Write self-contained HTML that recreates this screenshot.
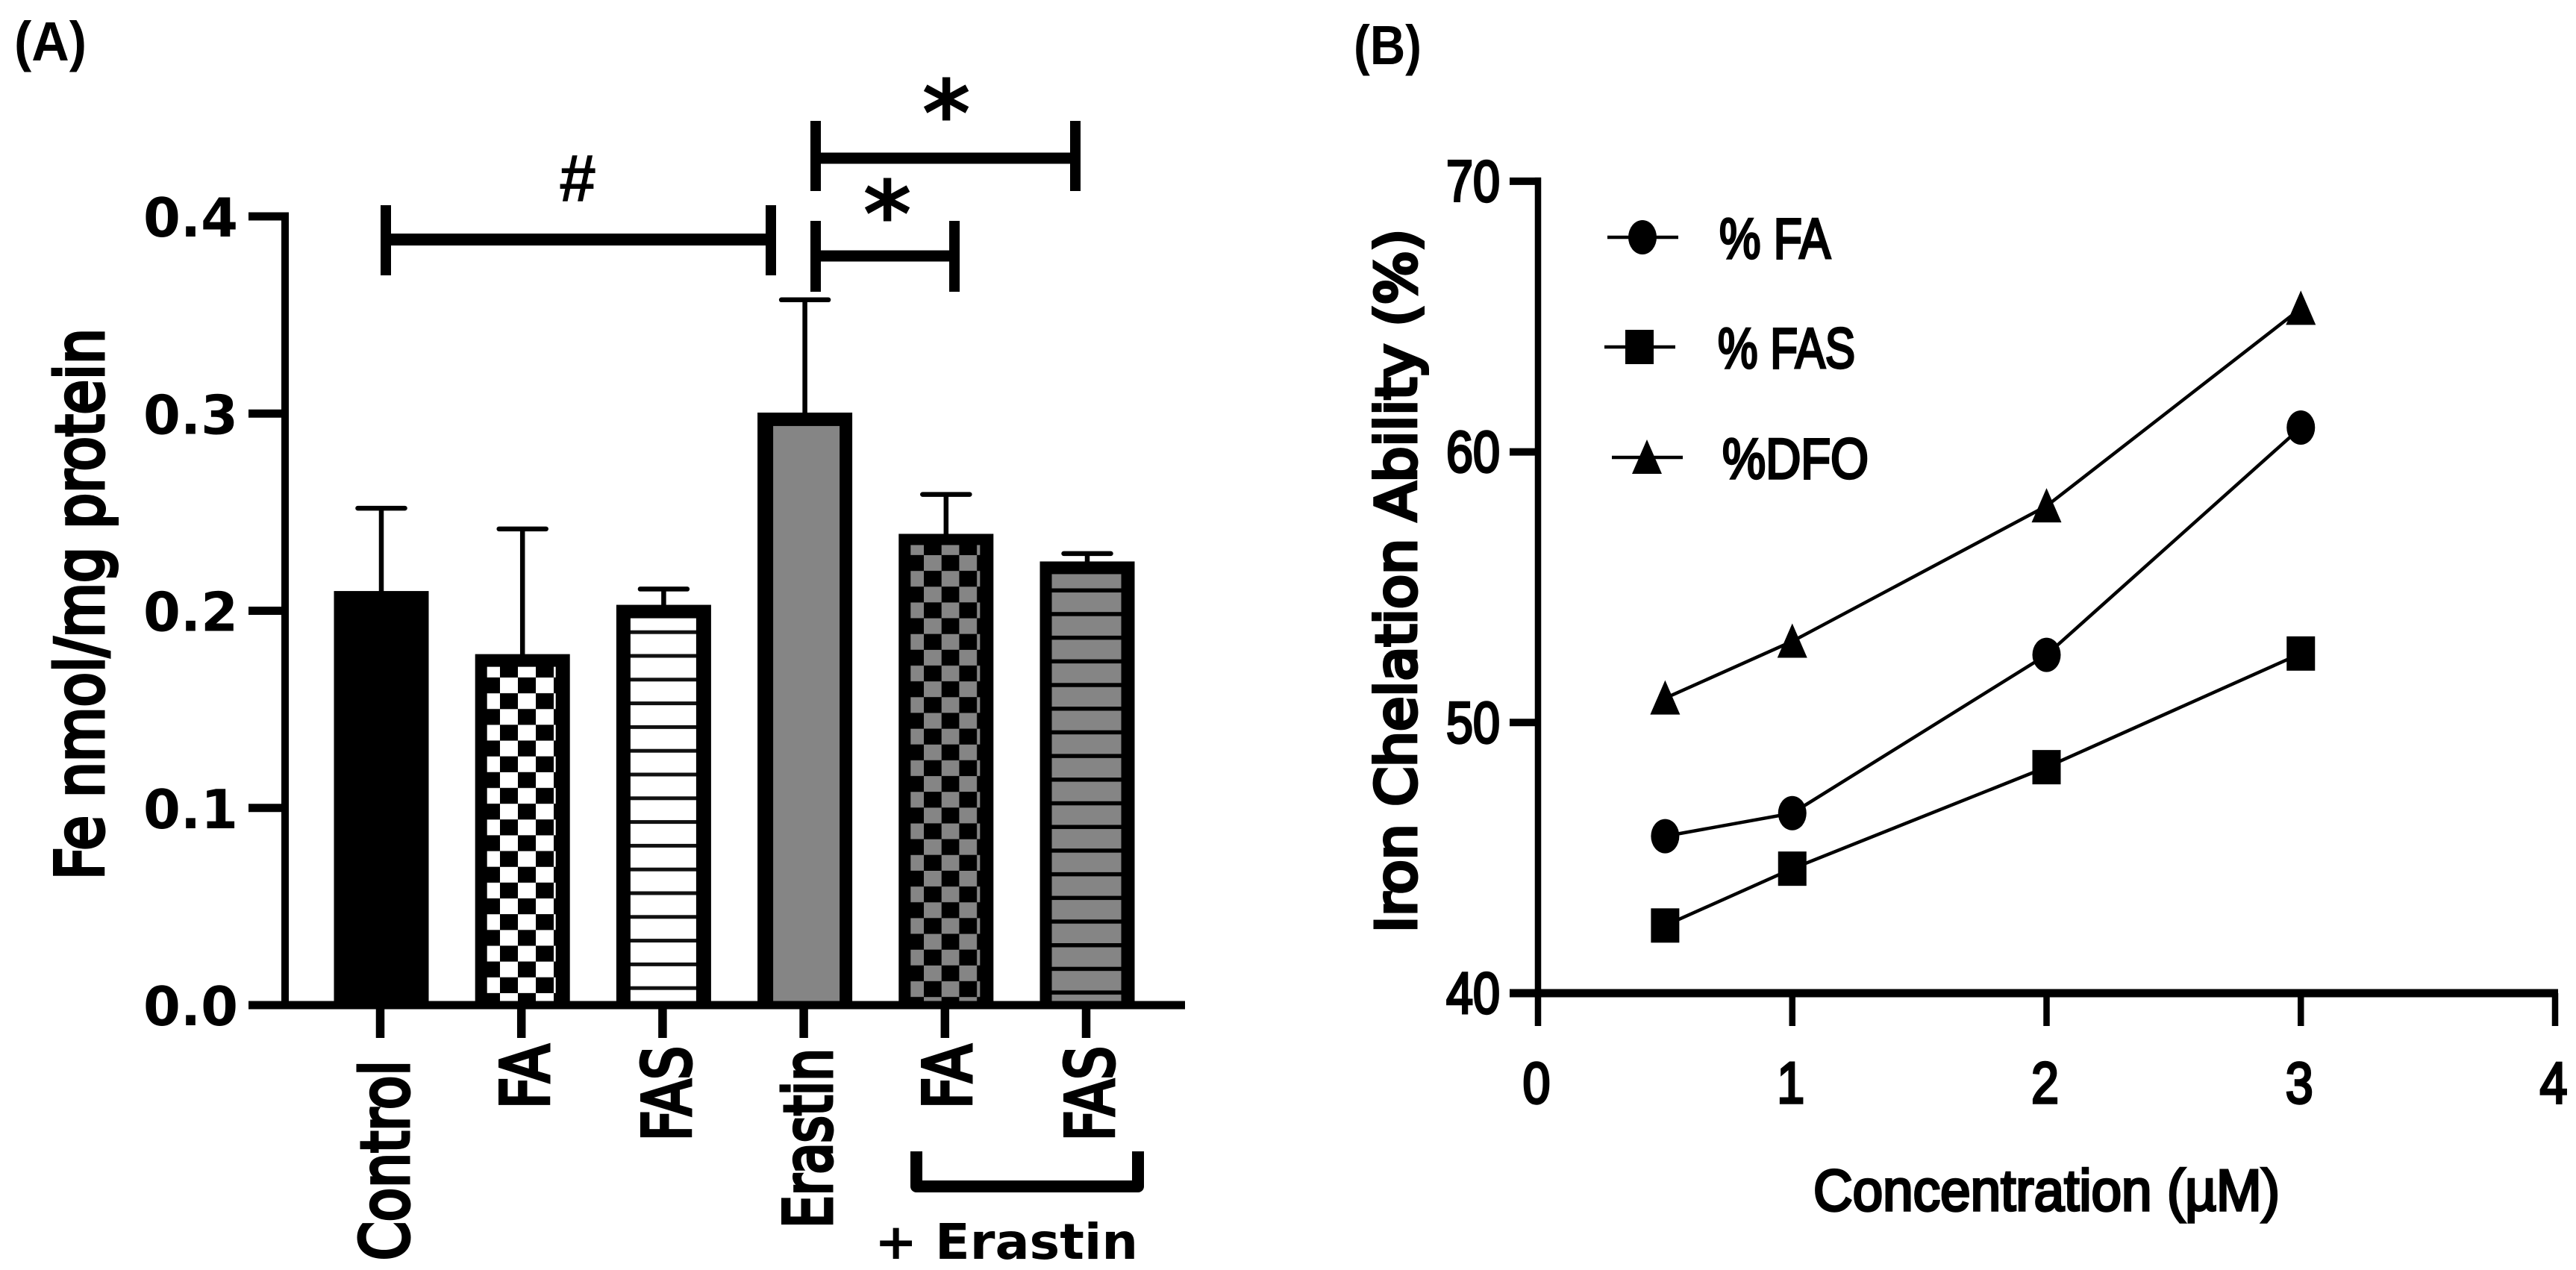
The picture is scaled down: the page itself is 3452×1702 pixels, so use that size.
<!DOCTYPE html>
<html lang="en">
<head>
<meta charset="utf-8">
<title>Iron content and iron chelation ability</title>
<style>
  html, body { margin: 0; padding: 0; background: #fff; }
  svg { display: block; }
  .dj { font-family: "DejaVu Sans", "Liberation Sans", sans-serif; font-weight: 700; }
  .dm { font-family: "DejaVu Sans", "Liberation Sans", sans-serif; font-weight: 400; stroke: #000; stroke-width: 5px; }
  .ls { font-family: "Liberation Sans", sans-serif; font-weight: 700; }
  .lm { font-family: "Liberation Sans", sans-serif; font-weight: 400; stroke: #000; stroke-width: 3.4px; }
</style>
</head>
<body>
<svg id="figure" xmlns="http://www.w3.org/2000/svg" width="3452" height="1702" viewBox="0 0 3452 1702">
  <defs>
    <pattern id="check-white" patternUnits="userSpaceOnUse" x="670" y="908" width="48" height="42.3">
      <rect width="48" height="43" fill="#000"/>
      <rect x="0" y="0" width="24" height="21" fill="#fff"/>
      <rect x="24" y="21.15" width="24" height="21" fill="#fff"/>
    </pattern>
    <pattern id="check-gray" patternUnits="userSpaceOnUse" x="1238" y="744" width="47.4" height="42.3">
      <rect width="48" height="43" fill="#000"/>
      <rect x="0" y="0" width="23.7" height="21" fill="#858585"/>
      <rect x="23.7" y="21.15" width="23.7" height="21" fill="#858585"/>
    </pattern>
    <pattern id="stripe-white" patternUnits="userSpaceOnUse" x="0" y="876.5" width="20" height="31.8">
      <rect width="20" height="32" fill="#fff"/>
      <rect y="0" width="20" height="5" fill="#111"/>
    </pattern>
    <pattern id="stripe-gray" patternUnits="userSpaceOnUse" x="0" y="788.5" width="20" height="31.7">
      <rect width="20" height="32" fill="#858585"/>
      <rect y="0" width="20" height="5.5" fill="#000"/>
    </pattern>
  </defs>

  <text class="ls" x="19" y="81" font-size="74" textLength="97" lengthAdjust="spacingAndGlyphs">(A)</text>
  <text class="ls" x="1814" y="86" font-size="74" textLength="91" lengthAdjust="spacingAndGlyphs">(B)</text>

  <g id="panel-a">
    <text class="dm" transform="translate(138 1179) rotate(-90)" font-size="88" textLength="739" lengthAdjust="spacingAndGlyphs">Fe nmol/mg protein</text>
    <text class="dm" transform="translate(547 1689) rotate(-90)" font-size="88" textLength="268" lengthAdjust="spacingAndGlyphs">Control</text>
    <text class="dm" transform="translate(735 1486) rotate(-90)" font-size="88" textLength="86" lengthAdjust="spacingAndGlyphs">FA</text>
    <text class="dm" transform="translate(925 1529) rotate(-90)" font-size="88" textLength="127" lengthAdjust="spacingAndGlyphs">FAS</text>
    <text class="dm" transform="translate(1114 1646) rotate(-90)" font-size="88" textLength="241" lengthAdjust="spacingAndGlyphs">Erastin</text>
    <text class="dm" transform="translate(1301 1486) rotate(-90)" font-size="88" textLength="86" lengthAdjust="spacingAndGlyphs">FA</text>
    <text class="dm" transform="translate(1492 1529) rotate(-90)" font-size="88" textLength="127" lengthAdjust="spacingAndGlyphs">FAS</text>

    <path d="M1228 1543 V1590 H1525 V1543" fill="none" stroke="#000" stroke-width="16" stroke-linejoin="round"/>
    <text class="dj" x="1172" y="1687" font-size="66" textLength="353" lengthAdjust="spacingAndGlyphs">+ Erastin</text>

    <g>
      <path d="M517 275 V369 M1033 275 V369" stroke="#000" stroke-width="14" fill="none"/>
      <path d="M517 321 H1033" stroke="#000" stroke-width="16" fill="none"/>
      <text class="ls" x="774" y="270" font-size="90" text-anchor="middle">#</text>
    </g>
    <g>
      <path d="M1093 162 V256 M1441 162 V256" stroke="#000" stroke-width="14" fill="none"/>
      <path d="M1093 212 H1441" stroke="#000" stroke-width="15" fill="none"/>
      <text class="dj" x="1268" y="196" font-size="125" text-anchor="middle">*</text>
    </g>
    <g>
      <path d="M1093 296 V391 M1279 296 V391" stroke="#000" stroke-width="14" fill="none"/>
      <path d="M1093 343 H1279" stroke="#000" stroke-width="15" fill="none"/>
      <text class="dj" x="1189" y="331" font-size="125" text-anchor="middle">*</text>
    </g>
  </g>

  <g id="panel-b">
    <text class="dm" transform="translate(1897 1250) rotate(-90)" font-size="74" textLength="943" lengthAdjust="spacingAndGlyphs">Iron Chelation Ability (%)</text>
    <text class="lm" x="2430" y="1622" font-size="78" textLength="625" lengthAdjust="spacingAndGlyphs">Concentration (µM)</text>
  </g>
</svg>

<script>
// Panel A data
const barCategories = ['Control', 'FA', 'FAS', 'Erastin', 'FA + Erastin', 'FAS + Erastin'];
const barMeans = [0.21, 0.178, 0.203, 0.3005, 0.239, 0.225];
const barErrorTops = [0.252, 0.2415, 0.211, 0.3577, 0.259, 0.229];
const barFills = ['#000', 'url(#check-white)', 'url(#stripe-white)', '#858585', 'url(#check-gray)', 'url(#stripe-gray)'];
const barTickValues = [0, 0.1, 0.2, 0.3, 0.4];
const barTickLabels = ['0.0', '0.1', '0.2', '0.3', '0.4'];

// Panel B data
const lineConcentrations = [0.5, 1, 2, 3];
const lineFA = [45.8, 46.65, 52.5, 60.9];
const lineFAS = [42.5, 44.6, 48.35, 52.55];
const lineDFO = [50.9, 53, 58, 65.3];
const lineXTicks = [0, 1, 2, 3, 4];
const lineYTicks = [40, 50, 60, 70];
const legendLabels = ['% FA', '% FAS', '%DFO'];

const SVG_NS = 'http://www.w3.org/2000/svg';
const panelA = document.getElementById('panel-a');
const panelB = document.getElementById('panel-b');

function make(parent, tag, attrs, text) {
  const el = document.createElementNS(SVG_NS, tag);
  for (const k in attrs) el.setAttribute(k, attrs[k]);
  if (text !== undefined) el.textContent = text;
  parent.appendChild(el);
  return el;
}
function slug(s) {
  return s.toLowerCase().replace(/[^a-z0-9]+/g, '-').replace(/^-|-$/g, '');
}

// Panel A axes
const yA = v => 1347 - v * 2642.5;
const xA = i => 511 + i * 189.2;
const insetLeft = [0, 16, 19, 21, 16, 16];
const insetRight = [0, 19, 20, 17, 18, 18];
const insetTop = [0, 17, 18, 18, 15, 17];

barMeans.forEach((mean, i) => {
  const cx = xA(i);
  const halfW = 63.5;
  const top = yA(mean);
  const capY = yA(barErrorTops[i]);
  const stem = make(panelA, 'line', { x1: cx, x2: cx, y1: capY, y2: top + 2, stroke: '#000', 'stroke-width': 6.5 });
  
  
  const cap = make(panelA, 'line', { x1: cx - 31.5, x2: cx + 31.5, y1: capY, y2: capY, stroke: '#000', 'stroke-width': 6.5, 'stroke-linecap': 'round' });
  
  
  const outer = make(panelA, 'rect', { x: cx - halfW, y: top, width: halfW * 2, height: 1347 - top, fill: '#000' });
  
  
  if (i > 0) {
    const inner = make(panelA, 'rect', {
      x: cx - halfW + insetLeft[i],
      y: top + insetTop[i],
      width: halfW * 2 - insetLeft[i] - insetRight[i],
      height: Math.max(0, 1347 - top - insetTop[i]),
      fill: barFills[i]
    });
    
    
  }
  const tick = make(panelA, 'line', { x1: cx - 1.5, x2: cx - 1.5, y1: 1347, y2: 1391, stroke: '#000', 'stroke-width': 11.5 });
  
  
});

const axisAY = make(panelA, 'line', { x1: 382, x2: 382, y1: yA(0.4) - 5.5, y2: 1352, stroke: '#000', 'stroke-width': 10 });


const axisAX = make(panelA, 'line', { x1: 333, x2: 1588, y1: 1347, y2: 1347, stroke: '#000', 'stroke-width': 11 });



barTickValues.forEach((v, i) => {
  const t = make(panelA, 'line', { x1: 333, x2: 387, y1: yA(v), y2: yA(v), stroke: '#000', 'stroke-width': 11 });
  
  
  const label = make(panelA, 'text', { x: 319, y: yA(v) + 27, 'font-size': 72, 'text-anchor': 'end', class: 'dj', textLength: 127, lengthAdjust: 'spacingAndGlyphs' }, barTickLabels[i]);
  
  
});

// Panel B axes
const xB = v => 2061 + v * 340.75;
const yB = v => 1331 - (v - 40) * 36.27;

const axisBY = make(panelB, 'line', { x1: xB(0), x2: xB(0), y1: yB(70) - 5, y2: 1336, stroke: '#000', 'stroke-width': 8.5 });


const axisBX = make(panelB, 'line', { x1: 2023, x2: 3428, y1: 1331, y2: 1331, stroke: '#000', 'stroke-width': 11 });



lineYTicks.forEach(v => {
  const t = make(panelB, 'line', { x1: 2023, x2: 2065, y1: yB(v), y2: yB(v), stroke: '#000', 'stroke-width': 10 });
  
  
  const label = make(panelB, 'text', { x: 2010, y: yB(v) + 26.5, 'font-size': 78, 'text-anchor': 'end', class: 'lm', textLength: 72, lengthAdjust: 'spacingAndGlyphs' }, String(v));
  
  
});
lineXTicks.forEach(v => {
  const t = make(panelB, 'line', { x1: xB(v), x2: xB(v), y1: 1331, y2: 1375, stroke: '#000', 'stroke-width': 8.5 });
  
  
  const label = make(panelB, 'text', { x: xB(v) - 2, y: 1478, 'font-size': 78, 'text-anchor': 'middle', class: 'lm', textLength: 37, lengthAdjust: 'spacingAndGlyphs' }, String(v));
  
  
});

function marker(shape, x, y) {
  if (shape === 'circle') return make(panelB, 'ellipse', { cx: x, cy: y, rx: 19, ry: 23, fill: '#000' });
  if (shape === 'square') return make(panelB, 'rect', { x: x - 19, y: y - 23, width: 38, height: 46, fill: '#000' });
  return make(panelB, 'polygon', { points: x + ',' + (y - 24) + ' ' + (x + 20) + ',' + (y + 22) + ' ' + (x - 20) + ',' + (y + 22), fill: '#000' });
}

function drawSeries(name, shape, values) {
  const pts = values.map((v, i) => xB(lineConcentrations[i]) + ',' + yB(v)).join(' ');
  const line = make(panelB, 'polyline', { points: pts, fill: 'none', stroke: '#000', 'stroke-width': 4.5 });
  
  
  values.forEach((v, i) => {
    const m = marker(shape, xB(lineConcentrations[i]), yB(v));
    
    
  });
}
drawSeries('fa', 'circle', lineFA);
drawSeries('fas', 'square', lineFAS);
drawSeries('dfo', 'triangle', lineDFO);

// Legend
const legendShapes = ['circle', 'square', 'triangle'];
const legendMarkerX = [2201, 2197, 2207];
const legendRowY = [318, 465, 613];
const legendTextX = [2304, 2302, 2308];
const legendTextLen = [149, 184, 196];
legendLabels.forEach((text, i) => {
  const y = legendRowY[i];
  const mx = legendMarkerX[i];
  const l = make(panelB, 'line', { x1: mx - 47, x2: mx + 48, y1: y, y2: y, stroke: '#000', 'stroke-width': 4.5 });
  
  
  const m = marker(legendShapes[i], mx, y);
  
  
  const t = make(panelB, 'text', { x: legendTextX[i], y: y + 28, 'font-size': 76, class: 'lm', textLength: legendTextLen[i], lengthAdjust: 'spacingAndGlyphs' }, text);
  
  
});
</script>
</body>
</html>
